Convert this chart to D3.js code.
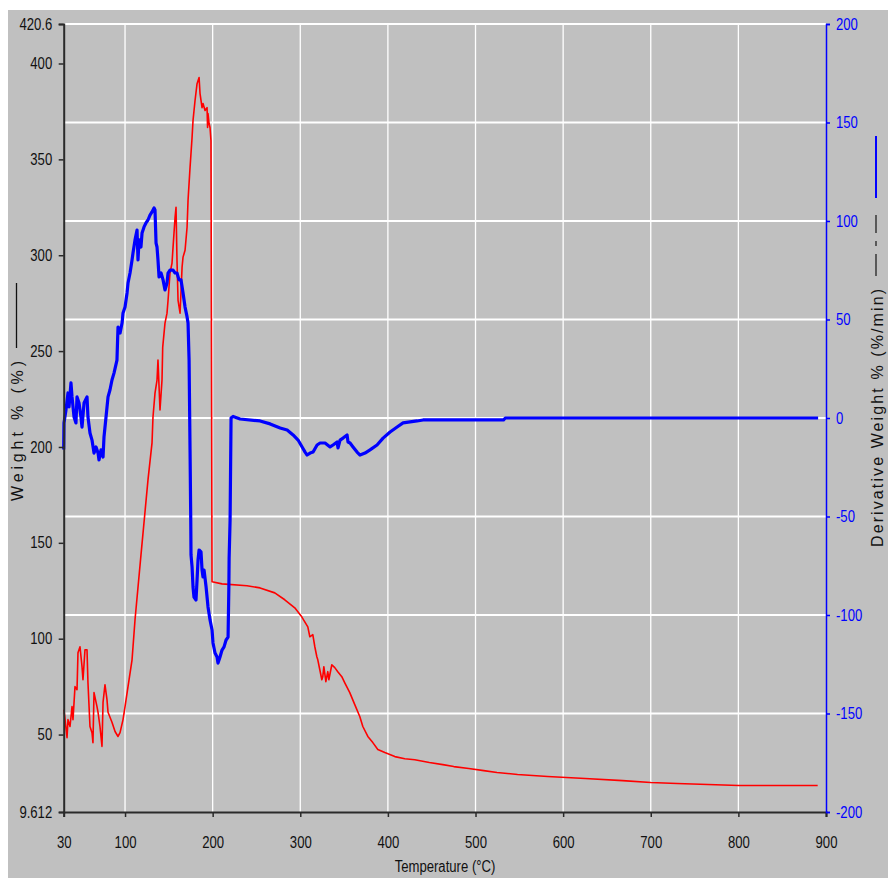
<!DOCTYPE html>
<html><head><meta charset="utf-8">
<script src="https://cdn.jsdelivr.net/npm/d3@7"></script>
<style>html,body{margin:0;padding:0;background:#fff;}svg{display:block;}</style>
</head><body>
<svg id="chart" width="888" height="878"></svg>
<script>
// ---- data ----
const weightTemp = [30.3,33.8,34.9,37.2,39.5,40.6,42.9,45.2,46.3,48.6,50.9,52.0,54.3,56.6,57.7,60.0,62.3,63.4,64.6,68.0,69.2,71.4,73.7,74.9,77.1,79.4,80.6,85.1,88.6,92.0,94.3,97.7,100.0,103.4,108.0,111.4,118.2,126.2,130.8,131.9,134.2,136.5,137.6,139.9,142.2,143.0,145.6,147.9,149.1,151.3,153.6,154.8,157.1,158.2,159.3,160.5,162.8,165.1,166.2,168.5,170.8,171.9,174.2,176.5,177.6,179.9,182.2,184.5,185.6,187.9,189.0,191.3,193.6,194.2,194.7,195.9,197.0,198.1,199.3,210.7,239.2,254.1,270.9,282.3,293.7,301.7,308.6,310.9,314.3,316.6,318.9,320.0,322.3,324.6,325.7,326.9,329.2,331.4,332.6,336.0,339.4,342.8,347.4,350.8,356.5,362.2,367.9,371.4,377.1,382.8,388.5,396.5,407.9,419.3,430.7,447.3,462.7,475.2,492.3,509.4,524.5,548.0,582.3,625.1,667.9,700.0,730.0,800.5,890.5];
const weightPct = [63.0,48.4,57.8,54.2,64.6,57.8,75.0,73.4,92.7,95.8,85.4,78.6,94.2,94.2,77.0,54.2,51.0,45.8,71.9,64.6,61.6,54.2,43.8,66.8,76.0,68.2,61.6,56.4,51.6,49.0,51.0,57.8,64.6,75.0,89.0,109.9,143.7,182.8,202.1,215.6,228.1,234.9,245.3,219.3,234.9,252.1,264.6,269.8,276.5,290.6,295.8,304.2,319.8,325.0,297.4,276.5,269.8,293.8,299.0,302.6,314.6,328.6,345.8,361.4,370.3,380.7,389.5,392.7,384.3,377.0,379.1,375.5,377.0,366.6,373.9,368.7,366.6,359.8,129.7,128.6,127.6,126.5,123.9,120.3,116.1,111.4,106.2,101.0,102.1,95.8,90.6,89.0,83.8,78.6,80.2,85.4,77.6,82.8,78.6,86.4,84.9,82.8,80.2,77.0,71.9,65.6,59.4,54.2,49.0,45.8,42.2,40.6,38.5,37.4,36.9,35.4,34.3,33.3,32.3,31.2,30.2,29.2,28.1,27.1,26.0,25.0,24.5,23.4,23.4];

const derivTemp = [30.0,30.3,32.6,34.9,36.1,38.3,39.5,41.8,44.0,45.2,47.5,49.7,50.9,53.2,56.6,57.7,60.0,62.3,64.6,66.9,69.2,70.3,72.6,74.9,76.0,78.3,80.6,82.8,85.1,87.4,90.8,91.5,92.0,94.3,96.6,97.7,100.0,102.3,103.4,105.7,108.0,109.1,111.4,113.7,114.8,116.0,118.2,119.4,121.7,123.9,126.2,128.5,130.8,133.1,134.2,135.4,136.5,137.6,138.8,141.1,143.4,145.6,147.9,149.1,151.3,154.8,157.1,159.3,161.6,163.9,166.2,168.5,170.8,171.9,173.1,174.2,175.0,175.3,176.5,177.6,178.7,181.0,182.2,183.3,184.5,186.7,187.9,189.0,190.2,192.5,194.7,197.0,199.3,200.4,202.7,205.0,206.1,208.4,210.7,213.0,215.3,217.6,218.5,218.8,219.9,221.0,223.3,231.3,254.1,265.6,277.0,285.0,291.8,297.5,302.1,305.5,307.8,311.2,314.6,319.2,322.6,328.3,334.0,337.4,342.0,343.1,345.4,348.8,353.4,354.5,356.8,360.2,364.8,368.2,373.9,379.6,387.6,394.5,402.5,410.5,417.3,425.3,433.3,440.1,532.0,534.0,891.0];
const derivRate = [-16.0,-2.5,4.1,12.7,5.6,17.8,10.7,0.5,-2.5,10.7,7.6,0.5,-4.6,7.6,10.7,0.5,-7.6,-11.2,-17.8,-14.7,-17.8,-21.3,-16.2,-19.8,-9.6,0.5,10.7,14.2,19.3,22.8,29.4,39.6,46.2,43.1,48.2,53.3,56.3,63.5,68.5,73.6,80.2,83.8,90.4,95.4,80.2,90.4,86.8,93.9,97.0,99.0,100.5,103.0,104.6,106.6,105.6,88.8,86.8,80.2,71.6,73.6,70.1,65.0,68.5,73.6,75.1,75.1,73.6,73.6,70.1,70.1,63.5,56.3,51.3,48.2,29.4,-16.2,-51.8,-69.5,-75.6,-85.8,-90.9,-92.4,-82.2,-72.1,-67.0,-68.0,-77.2,-80.7,-77.2,-85.8,-95.9,-102.5,-107.6,-114.2,-119.3,-121.3,-124.4,-121.3,-117.8,-116.2,-112.7,-111.2,-85.8,-71.1,-51.8,0.0,0.8,-0.5,-1.5,-3.0,-5.1,-6.1,-8.6,-11.2,-14.7,-17.3,-18.8,-17.8,-17.3,-13.7,-12.7,-12.7,-14.7,-13.7,-12.2,-15.2,-11.2,-10.2,-8.6,-12.2,-12.7,-14.7,-17.3,-18.8,-17.8,-16.2,-13.7,-10.2,-7.1,-4.6,-2.5,-2.0,-1.5,-1.0,-1.0,0.0,0.0];

const xTicks = [30,100,200,300,400,500,600,700,800,900];
const leftTicks = [9.612,50,100,150,200,250,300,350,400,420.6];
const rightTicks = [-200,-150,-100,-50,0,50,100,150,200];
const xTitle = "Temperature (°C)";
const leftTitle = "Weight % (%)";
const rightTitle = "Derivative Weight % (%/min)";

// ---- layout ----
const L = 63.7, R = 826, T = 24, B = 812;
const NARROW = 0.82;
const svg = d3.select("#chart");
svg.append("rect").attr("x",0).attr("y",0).attr("width",888).attr("height",878).attr("fill","#fff");
svg.append("rect").attr("x",8).attr("y",10).attr("width",880).attr("height",868).attr("fill","#c0c0c0");

const x = d3.scaleLinear().domain([30,900]).range([L,R]);
const yL = d3.scaleLinear().domain([9.612,420.6]).range([B,T]);
const yR = d3.scaleLinear().domain([-200,200]).range([B,T]);

// grid
const grid = svg.append("g");
grid.selectAll("line.v").data(xTicks.filter(d=>d>30 && d<900)).join("line")
  .attr("x1",d=>x(d)).attr("x2",d=>x(d)).attr("y1",T).attr("y2",B)
  .attr("stroke","#fff").attr("stroke-width",1.3);
grid.selectAll("line.h").data(rightTicks.filter(d=>d>-200)).join("line")
  .attr("x1",L).attr("x2",R).attr("y1",d=>yR(d)).attr("y2",d=>yR(d))
  .attr("stroke","#fff").attr("stroke-width",2);

// series
const wData = weightTemp.map((t,i)=>[t,weightPct[i]]);
const dData = derivTemp.map((t,i)=>[t,derivRate[i]]);
svg.append("path").datum(wData)
  .attr("d", d3.line().x(d=>x(d[0])).y(d=>yL(d[1])))
  .attr("fill","none").attr("stroke","#ff0000").attr("stroke-width",1.6).attr("stroke-linejoin","round");
svg.append("path").datum(dData)
  .attr("d", d3.line().x(d=>x(d[0])).y(d=>yR(d[1])))
  .attr("fill","none").attr("stroke","#0000ff").attr("stroke-width",3.2).attr("stroke-linejoin","round");

const FONT = "'Liberation Sans', Arial, sans-serif";

// axes
const gx = svg.append("g").attr("transform",`translate(0,${B})`)
  .call(d3.axisBottom(x).tickValues(xTicks).tickSize(5).tickFormat(d=>String(d)));
const gl = svg.append("g").attr("transform",`translate(${L},0)`)
  .call(d3.axisLeft(yL).tickValues(leftTicks).tickSize(5).tickFormat(d=>String(d)));
const gr = svg.append("g").attr("transform",`translate(${R},0)`)
  .call(d3.axisRight(yR).tickValues(rightTicks).tickSize(4).tickFormat(d=>String(d)));

[gx,gl].forEach(g=>{
  g.select(".domain").attr("stroke","#2a2a2a").attr("stroke-width",2);
  g.selectAll(".tick line").attr("stroke","#2a2a2a").attr("stroke-width",1.5);
  g.selectAll("text").attr("fill","#111").style("font-family",FONT).style("font-size","16px");
});
gr.select(".domain").attr("stroke","#0000ff").attr("stroke-width",1.5);
gr.selectAll(".tick line").attr("stroke","#0000ff").attr("stroke-width",1.5);
gr.selectAll("text").attr("fill","#0000ff").style("font-family",FONT).style("font-size","16px");

gx.selectAll("text").attr("y",36).attr("dy",null).attr("transform",`scale(${NARROW},1)`);
gl.selectAll("text").attr("x",-11.5/NARROW).attr("transform",`scale(${NARROW},1)`);
gr.selectAll("text").attr("x",10/NARROW).attr("transform",`scale(${NARROW},1)`);

// titles
svg.append("text").attr("transform",`translate(445,872) scale(${NARROW},1)`)
  .attr("text-anchor","middle").style("font-family",FONT).style("font-size","16px").attr("fill","#111")
  .text(xTitle);

svg.append("text").attr("transform","translate(23,431) rotate(-90)")
  .attr("text-anchor","middle").style("font-family",FONT).style("font-size","16px").attr("fill","#111")
  .attr("textLength",140).attr("lengthAdjust","spacing")
  .text(leftTitle);
svg.append("line").attr("x1",16.5).attr("x2",16.5).attr("y1",283).attr("y2",348)
  .attr("stroke","#111").attr("stroke-width",1.3);

svg.append("text").attr("transform","translate(883,418) rotate(-90)")
  .attr("text-anchor","middle").style("font-family",FONT).style("font-size","16px").attr("fill","#111")
  .attr("textLength",258).attr("lengthAdjust","spacing")
  .text(rightTitle);
svg.append("line").attr("x1",876).attr("x2",876).attr("y1",136).attr("y2",198)
  .attr("stroke","#0000ff").attr("stroke-width",2);
svg.append("line").attr("x1",876).attr("x2",876).attr("y1",215).attr("y2",276)
  .attr("stroke","#222").attr("stroke-width",1.3).attr("stroke-dasharray","18 8 5 8 22");
</script>
</body></html>
